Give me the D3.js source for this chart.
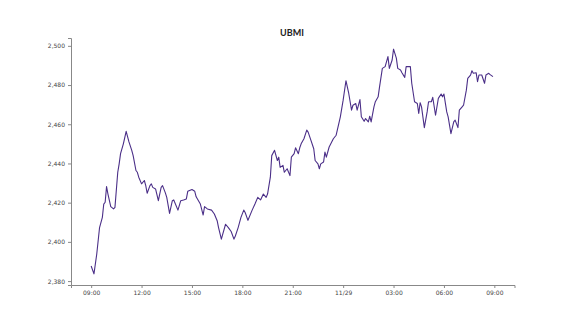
<!DOCTYPE html>
<html>
<head>
<meta charset="utf-8">
<script src="https://cdn.jsdelivr.net/npm/d3@7"></script>
<style>
html,body{margin:0;padding:0;background:#fff;}
svg{display:block;}
</style>
</head>
<body>
<svg id="chart" width="570" height="320"></svg>
<script>
const title = "UBMI";
const startTime = "2023-11-28T09:00:00";
// minutes after start
const minutes = [0,10,20,30,40,45,50,55,60,70,80,85,95,100,105,115,125,135,145,150,160,165,170,180,190,195,200,210,215,220,230,240,250,255,265,270,280,290,295,310,320,330,340,345,360,370,375,390,400,405,415,430,440,450,455,465,470,480,490,500,510,515,525,535,545,550,560,575,585,595,605,615,625,630,640,645,655,665,670,675,685,690,700,710,715,725,730,740,745,750,760,770,775,785,795,800,810,815,820,830,835,840,850,865,875,890,900,910,920,930,935,945,950,960,965,975,980,990,995,1000,1010,1015,1025,1030,1040,1050,1060,1065,1075,1080,1090,1095,1105,1110,1120,1125,1140,1145,1155,1165,1170,1175,1180,1190,1200,1205,1215,1220,1230,1240,1250,1255,1260,1270,1275,1285,1295,1300,1310,1315,1325,1330,1340,1345,1355,1360,1365,1375,1380,1385,1395,1405,1410,1420,1425,1435];
const values = [2387.7,2383.7,2393.8,2407.3,2412.5,2419.3,2420.2,2428.2,2424.4,2418,2416.8,2417.6,2435.5,2439.8,2445,2450,2456.4,2451,2446.7,2444,2436.4,2435.5,2433,2429.6,2431.3,2428.7,2424.8,2428.7,2429.6,2427.8,2427,2421,2427.8,2428.7,2425,2422.7,2414.5,2421,2421.4,2416.2,2421,2421.4,2421.9,2425.8,2426.7,2425.8,2423,2419.3,2413.7,2418,2416.8,2416.2,2414.2,2410.8,2407.3,2401.4,2404,2409,2407.3,2405.3,2401.4,2403,2407.3,2412.5,2416.2,2415,2411,2416.2,2419.3,2422.7,2421.4,2424.4,2422.7,2424.4,2433,2444,2446.7,2441.5,2443.2,2438,2439,2435.5,2437.3,2433.8,2443.2,2445,2448,2445,2448,2450,2452.6,2457,2456,2451.8,2447.5,2441.5,2439.8,2437.3,2439.8,2440.7,2445.8,2443.2,2448.4,2452.6,2454.4,2463.8,2472.3,2482.2,2475.7,2467.2,2469.7,2470.6,2467.2,2472.6,2463.8,2461.5,2462.9,2461.2,2464.1,2461.2,2468.9,2471.5,2474,2479.1,2488.5,2489.4,2494.5,2488.5,2492.8,2498.3,2493.7,2488.5,2487.7,2486.3,2483.9,2489.4,2489.4,2480.9,2471.5,2470.6,2465.5,2471,2468.9,2458.3,2466.3,2471.5,2471.5,2473.7,2464.6,2473.2,2475.4,2474,2475.4,2466.3,2463.8,2455.2,2461.2,2462.1,2458.3,2467.2,2468.9,2469.7,2477.4,2483.4,2485.1,2487.3,2486,2486.3,2481.7,2485.1,2485.1,2480.9,2485.1,2486,2485.3,2484.3];
const yTicks = [2380,2400,2420,2440,2460,2480,2500];

const svg = d3.select("#chart");
const t0 = new Date(startTime);
const data = minutes.map((m,i)=>({t:new Date(t0.getTime()+m*60000), v:values[i]}));

const pad = 72*60000; // 5% of 24h
const x = d3.scaleTime()
  .domain([new Date(t0.getTime()-pad), new Date(t0.getTime()+24*3600000+pad)])
  .range([71, 514.5]);
const y = d3.scaleLinear().domain([2378, 2504]).range([285, 38]);

const xTicks = d3.range(0, 9).map(i=>new Date(t0.getTime()+i*3*3600000));
const fmtX = d => (d.getHours()===0 ? d3.timeFormat("%m/%d")(d) : d3.timeFormat("%H:%M")(d));

const xAxis = svg.append("g").attr("transform","translate(0,285)")
  .call(d3.axisBottom(x).tickValues(xTicks).tickFormat(fmtX).tickSize(3).tickPadding(3));
const yAxis = svg.append("g").attr("transform","translate(71,0)")
  .call(d3.axisLeft(y).tickValues(yTicks).tickFormat(d3.format(",")).tickSize(3).tickPadding(3));

[xAxis,yAxis].forEach(g=>{
  g.selectAll("path.domain").attr("stroke","#888").attr("stroke-width",1);
  g.selectAll(".tick line").attr("stroke","#888");
  g.selectAll(".tick text").attr("fill","#444").style("font-family","DejaVu Sans, sans-serif").style("font-size","6px");
});

svg.append("path").datum(data)
  .attr("fill","none")
  .attr("stroke","#4b2f88")
  .attr("stroke-width",1.1)
  .attr("stroke-linejoin","round")
  .attr("d", d3.line().x(d=>x(d.t)).y(d=>y(d.v)));

svg.append("text").attr("x",292).attr("y",36).attr("text-anchor","middle")
  .style("font-family","Lato, 'DejaVu Sans', sans-serif").style("font-weight","bold").style("font-size","9px")
  .attr("fill","#222").text(title);
</script>
</body>
</html>
